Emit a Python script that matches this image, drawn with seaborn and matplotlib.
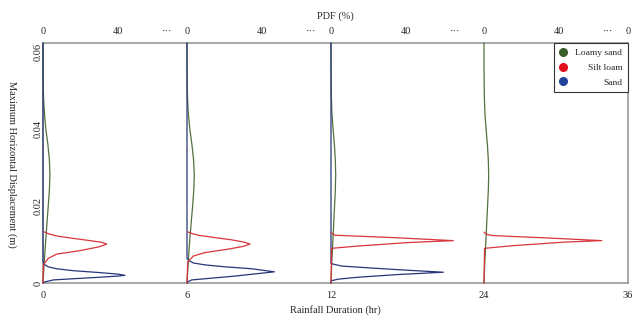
import pandas as pd
import matplotlib
matplotlib.use("Agg")
import matplotlib.pyplot as plt
from matplotlib.lines import Line2D
import seaborn as sns

# axis labels / ticks
durations = ["0", "6", "12", "24", "36"]
pdf_ticks = [0, 40, 66]
pdf_tick_labels = ["0", "40", "···"]
disp_ticks = [0, 0.02, 0.04, 0.06]
disp_tick_labels = ["0", "0.02", "0.04", "0.06"]
soils = ["Loamy sand", "Silt loam", "Sand"]

# panel widths (px) and the PDF range each panel covers
panel_px = [144, 144, 153, 144]
panel_pdf_max = [76.8, 76.8, 81.6, 76.8]

# Loamy sand (broad distribution)
loamy_d = [0, 0.004, 0.008, 0.012, 0.016, 0.020, 0.024, 0.028, 0.032, 0.036, 0.040, 0.044, 0.048, 0.052, 0.056, 0.0623]
loamy_0h = [0, 0.5, 1.0, 1.6, 2.2, 2.8, 3.4, 3.7, 3.4, 2.6, 1.5, 0.8, 0.3, 0.1, 0, 0]
loamy_6h = [0, 0.5, 1.0, 1.6, 2.3, 3.0, 3.6, 3.9, 3.5, 2.6, 1.5, 0.7, 0.3, 0.1, 0, 0]
loamy_12h = [0, 0.3, 0.7, 1.1, 1.5, 1.9, 2.3, 2.5, 2.3, 1.8, 1.1, 0.5, 0.2, 0.1, 0, 0]
loamy_24h = [0, 0.3, 0.7, 1.1, 1.5, 1.9, 2.3, 2.5, 2.3, 1.8, 1.1, 0.5, 0.2, 0.1, 0, 0]

# Silt loam
silt_d_0h = [0, 0.0047, 0.0064, 0.0075, 0.0084, 0.0094, 0.0101, 0.0106, 0.0110, 0.0117, 0.0122, 0.0128, 0.0133]
silt_0h = [0, 0.2, 2.8, 7.3, 19.7, 30.0, 34.0, 31.0, 25.0, 14.4, 7.3, 2.8, 0.5]
silt_d_6h = [0, 0.0055, 0.0070, 0.0079, 0.0088, 0.0095, 0.0101, 0.0106, 0.0112, 0.0119, 0.0124, 0.0130, 0.0133]
silt_6h = [0, 0.4, 3.4, 9.6, 22.0, 30.0, 33.6, 30.5, 23.8, 13.2, 6.0, 1.6, 0.4]
silt_d_12h = [0, 0.0090, 0.0096, 0.0105, 0.0110, 0.0118, 0.0124, 0.0128, 0.0132]
silt_12h = [0, 0.3, 14.6, 41.2, 65.2, 32.4, 2.1, 0.7, 0]
silt_d_24h = [0, 0.0090, 0.0097, 0.0106, 0.0110, 0.0117, 0.0123, 0.0126, 0.0132]
silt_24h = [0, 0.3, 15.6, 42.3, 62.8, 33.4, 5.0, 1.4, 0]

# Sand (no curve at 24 hr)
sand_d_0h = [0, 0.0003, 0.0008, 0.0011, 0.0015, 0.0018, 0.0020, 0.0023, 0.0027, 0.0032, 0.0037, 0.0042, 0.0049, 0.0056, 0.0623]
sand_0h = [0, 1.1, 5.5, 16.0, 30.4, 40.0, 43.7, 40.0, 30.4, 16.0, 7.3, 2.8, 0.5, 0, 0]
sand_d_6h = [0, 0.0003, 0.0008, 0.0011, 0.0018, 0.0029, 0.0037, 0.0042, 0.0047, 0.0052, 0.0058, 0.0064, 0.0623]
sand_6h = [0, 0.4, 2.5, 9.6, 25.6, 46.6, 34.5, 20.3, 9.6, 3.4, 1.1, 0, 0]
sand_d_12h = [0, 0.0006, 0.0010, 0.0015, 0.0022, 0.0028, 0.0033, 0.0039, 0.0044, 0.0049, 0.0051, 0.0623]
sand_12h = [0, 0.3, 3.9, 14.6, 35.9, 59.9, 41.2, 21.0, 5.7, 1.2, 0, 0]

line_colors = {"Loamy sand": "#55703f", "Silt loam": "#d8343c", "Sand": "#27367a"}
marker_colors = ["#3b5e2b", "#e3101e", "#21449a"]

panels = [
    [("Loamy sand", loamy_d, loamy_0h), ("Sand", sand_d_0h, sand_0h), ("Silt loam", silt_d_0h, silt_0h)],
    [("Loamy sand", loamy_d, loamy_6h), ("Sand", sand_d_6h, sand_6h), ("Silt loam", silt_d_6h, silt_6h)],
    [("Loamy sand", loamy_d, loamy_12h), ("Sand", sand_d_12h, sand_12h), ("Silt loam", silt_d_12h, silt_12h)],
    [("Loamy sand", loamy_d, loamy_24h), ("Silt loam", silt_d_24h, silt_24h)],
]

sns.set_style("white")
plt.rcParams["font.family"] = ["Liberation Serif", "DejaVu Serif"]
plt.rcParams["font.size"] = 7.5

fig, axes = plt.subplots(1, 4, figsize=(6.34, 3.23), dpi=100,
                         gridspec_kw=dict(width_ratios=panel_px, wspace=0))
fig.subplots_adjust(left=43 / 634, right=628 / 634, bottom=1 - 283 / 323, top=1 - 43 / 323)

frame_col = "#9a9a9a"
for i, ax in enumerate(axes):
    rows = []
    for soil, d, p in panels[i]:
        rows.append(pd.DataFrame({"disp": d, "pdf": p, "soil": soil}))
    df = pd.concat(rows, ignore_index=True)
    sns.lineplot(data=df, x="pdf", y="disp", hue="soil", palette=line_colors,
                 sort=False, estimator=None, legend=False, linewidth=0.9, ax=ax)
    for ln in ax.lines:
        ln.set_clip_on(False)
        ln.set_zorder(3)
    ax.set_xlim(0, panel_pdf_max[i])
    ax.set_ylim(0, 0.0623)
    ax.set_xlabel("")
    ax.set_ylabel("")

    # bottom: rainfall duration at panel edges
    if i == 3:
        ax.set_xticks([0, panel_pdf_max[i]])
        ax.set_xticklabels([durations[3], durations[4]])
    else:
        ax.set_xticks([0])
        ax.set_xticklabels([durations[i]])
    ax.tick_params(axis="x", length=0, pad=6)

    # top: PDF (%) ticks
    sec = ax.secondary_xaxis("top")
    if i == 3:
        sec.set_xticks(pdf_ticks + [panel_pdf_max[i]])
        sec.set_xticklabels(pdf_tick_labels + ["0"])
    else:
        sec.set_xticks(pdf_ticks)
        sec.set_xticklabels(pdf_tick_labels)
    sec.tick_params(length=0, pad=5)
    sec.spines["top"].set_visible(False)

    for s in ax.spines.values():
        s.set_color(frame_col)
        s.set_linewidth(1.2)
    if i > 0:
        ax.spines["left"].set_visible(False)
        ax.set_yticks([])
    if i < 3:
        ax.spines["right"].set_visible(False)

axes[0].set_yticks(disp_ticks)
axes[0].set_yticklabels(disp_tick_labels, rotation=90, va="center")
axes[0].tick_params(axis="y", length=0, pad=0.5)

fig.text(335.5 / 634, 1 - 16 / 323, "PDF (%)", ha="center", va="center", fontsize=7.5)
fig.text(335.5 / 634, 1 - 310 / 323, "Rainfall Duration (hr)", ha="center", va="center", fontsize=7.5)
fig.text(12 / 634, 1 - 164 / 323, "Maximum Horizontal Displacement (m)", rotation=270,
         ha="center", va="center", fontsize=7.5)

handles = [Line2D([], [], marker="o", ls="", color=c, markersize=5.5) for c in marker_colors]
leg = axes[3].legend(handles, soils, loc="upper right", bbox_to_anchor=(1, 1), borderaxespad=0,
                     frameon=True, fancybox=False, edgecolor="#333333", framealpha=1,
                     fontsize=6.8, handletextpad=0.9, borderpad=0.6, labelspacing=0.65,
                     handlelength=0.8)
leg.get_frame().set_linewidth(0.8)

# right-align the legend labels
fig.canvas.draw()
r = fig.canvas.get_renderer()
widths = [t.get_window_extent(r).width for t in leg.get_texts()]
for t, w in zip(leg.get_texts(), widths):
    t.set_position((max(widths) - w, 0))

fig.savefig("out.png", dpi=100)
